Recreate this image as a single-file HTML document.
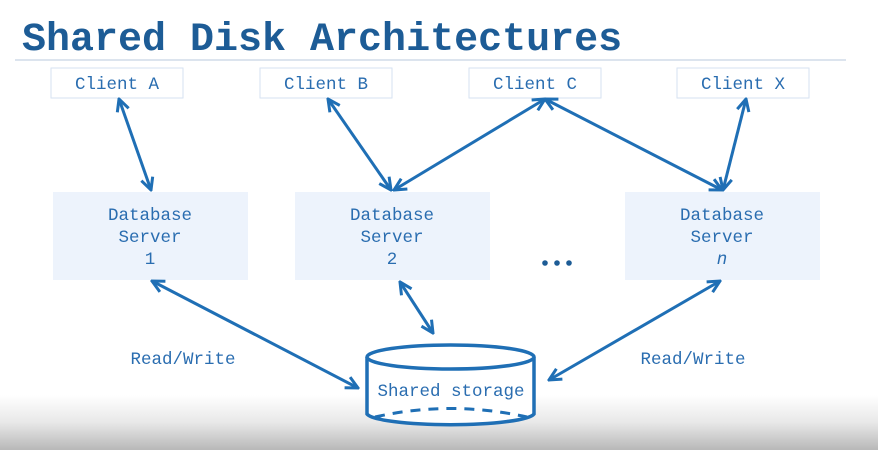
<!DOCTYPE html>
<html><head><style>body{margin:0;background:#fff}svg{display:block}</style></head><body>
<svg width="878" height="450" viewBox="0 0 878 450" xmlns="http://www.w3.org/2000/svg">
<defs>
<linearGradient id="g" x1="0" y1="0" x2="0" y2="1"><stop offset="0" stop-color="#fff"/><stop offset="0.5" stop-color="#e8e8e8"/><stop offset="1" stop-color="#b8b8b8"/></linearGradient>
<marker id="a" viewBox="0 0 10 10" refX="9" refY="5" markerWidth="5" markerHeight="5" orient="auto-start-reverse"><path d="M1,1 L9,5 L1,9" fill="none" stroke="#1f6fb5" stroke-width="2"/></marker>
</defs>
<rect x="0" y="395" width="878" height="55" fill="url(#g)"/>
<text x="22" y="50" font-family="Liberation Mono,monospace" font-weight="bold" font-size="40" fill="#1d5c96">Shared Disk Architectures</text>
<line x1="15" y1="60" x2="846" y2="60" stroke="#b8c8dc" stroke-width="1"/>
<g fill="#fff" stroke="#d6e2f2" stroke-width="1">
<rect x="51" y="68" width="132" height="30"/><rect x="260" y="68" width="132" height="30"/><rect x="469" y="68" width="132" height="30"/><rect x="677" y="68" width="132" height="30"/>
</g>
<g fill="#edf3fc"><rect x="53" y="192" width="195" height="88"/><rect x="295" y="192" width="195" height="88"/><rect x="625" y="192" width="195" height="88"/></g>
<g stroke="#1f6fb5" stroke-width="3" fill="none" marker-start="url(#a)" marker-end="url(#a)">
<line x1="119" y1="99" x2="151" y2="190"/>
<line x1="328" y1="99" x2="391" y2="190"/>
<line x1="545" y1="99" x2="394" y2="190"/>
<line x1="545" y1="99" x2="722" y2="190"/>
<line x1="746" y1="99" x2="723" y2="190"/>
<line x1="152" y1="281" x2="358" y2="388"/>
<line x1="400" y1="282" x2="433" y2="333"/>
<line x1="720" y1="281" x2="549" y2="380"/>
</g>
<g stroke="#1f6fb5" stroke-width="3.5" fill="#fff">
<path d="M367,357 L367,414 A84,12 0 0 0 534,414 L534,357"/>
<ellipse cx="450.5" cy="357" rx="83.5" ry="12"/>
</g>
<path d="M375,417 Q450,400 527,417" fill="none" stroke="#1f6fb5" stroke-width="3" stroke-dasharray="10,8"/>
<g font-family="Liberation Mono,monospace" font-size="17.5" fill="#2a6db0" text-anchor="middle">
<text x="117" y="89">Client A</text><text x="326" y="89">Client B</text><text x="535" y="89">Client C</text><text x="743" y="89">Client X</text>
<text x="150" y="220">Database</text><text x="150" y="242">Server</text><text x="150" y="264">1</text>
<text x="392" y="220">Database</text><text x="392" y="242">Server</text><text x="392" y="264">2</text>
<text x="722" y="220">Database</text><text x="722" y="242">Server</text><text x="722" y="264" font-style="italic">n</text>
<text x="183" y="364">Read/Write</text><text x="693" y="364">Read/Write</text>
<text x="451" y="396">Shared storage</text>
</g>
<g fill="#1d5c96"><circle cx="545" cy="263" r="2.8"/><circle cx="557" cy="263" r="2.8"/><circle cx="569" cy="263" r="2.8"/></g>
</svg>
</body></html>
